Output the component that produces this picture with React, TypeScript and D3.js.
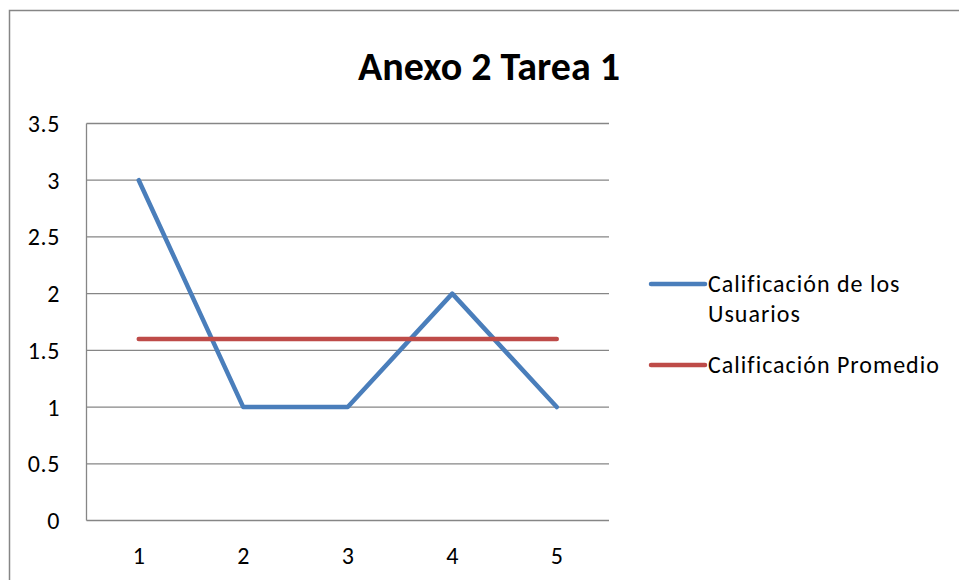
import React from "react";
import * as d3 from "d3";

const categories = ["1", "2", "3", "4", "5"];
const userScores = [3, 1, 1, 2, 1];
const averageScores = [1.6, 1.6, 1.6, 1.6, 1.6];
const yTicks = [0, 0.5, 1, 1.5, 2, 2.5, 3, 3.5];
const seriesNames = ["Calificación de los Usuarios", "Calificación Promedio"];
const title = "Anexo 2 Tarea 1";

const W = 959, H = 580;
const left = 86.5, right = 609, top = 123.5, bottom = 520.5;
const font = "Carlito, Calibri, Lato, sans-serif";

export default function App() {
  const x = d3.scaleBand<string>().domain(categories).range([left, right]);
  const y = d3.scaleLinear().domain([0, 3.5]).range([bottom, top]);
  const line = d3.line<number>()
    .x((_, i) => (x(categories[i]) as number) + x.bandwidth() / 2)
    .y((d) => y(d));

  return (
    <svg width={W} height={H} style={{ position: "absolute", left: 0, top: 0, background: "#fff" }}>
      <rect x={9.5} y={10.5} width={W + 20} height={H + 20} fill="#fff" stroke="#868686" strokeWidth={1.5} />
      <text x={489} y={80} textAnchor="middle" fontFamily={font} fontWeight="bold" fontSize={40} fill="#000">{title}</text>
      {yTicks.map((t) => (
        <g key={t}>
          {t > 0 && <line x1={left} x2={right} y1={y(t)} y2={y(t)} stroke="#868686" strokeWidth={1.3} />}
          <text x={60} y={y(t) + 8.5} textAnchor="end" fontFamily={font} fontSize={24} letterSpacing={0.6} fill="#000">{t}</text>
        </g>
      ))}
      <line x1={left} x2={left} y1={top} y2={bottom} stroke="#868686" strokeWidth={1.3} />
      <line x1={left} x2={right} y1={bottom} y2={bottom} stroke="#868686" strokeWidth={1.3} />
      {categories.map((c) => (
        <text key={c} x={(x(c) as number) + x.bandwidth() / 2} y={564} textAnchor="middle" fontFamily={font} fontSize={24} fill="#000">{c}</text>
      ))}
      <path d={line(userScores) || ""} fill="none" stroke="#4a7ebb" strokeWidth={4.5} strokeLinecap="round" strokeLinejoin="round" />
      <path d={line(averageScores) || ""} fill="none" stroke="#be4b48" strokeWidth={4.5} strokeLinecap="round" strokeLinejoin="round" />
      <line x1={651} x2={705} y1={284} y2={284} stroke="#4a7ebb" strokeWidth={4.5} strokeLinecap="round" />
      <text x={708} y={292} fontFamily={font} fontSize={24} letterSpacing={1} fill="#000">Calificación de los</text>
      <text x={708} y={322} fontFamily={font} fontSize={24} letterSpacing={1} fill="#000">Usuarios</text>
      <line x1={651} x2={705} y1={365} y2={365} stroke="#be4b48" strokeWidth={4.5} strokeLinecap="round" />
      <text x={708} y={373} fontFamily={font} fontSize={24} letterSpacing={1} fill="#000">{seriesNames[1]}</text>
    </svg>
  );
}
